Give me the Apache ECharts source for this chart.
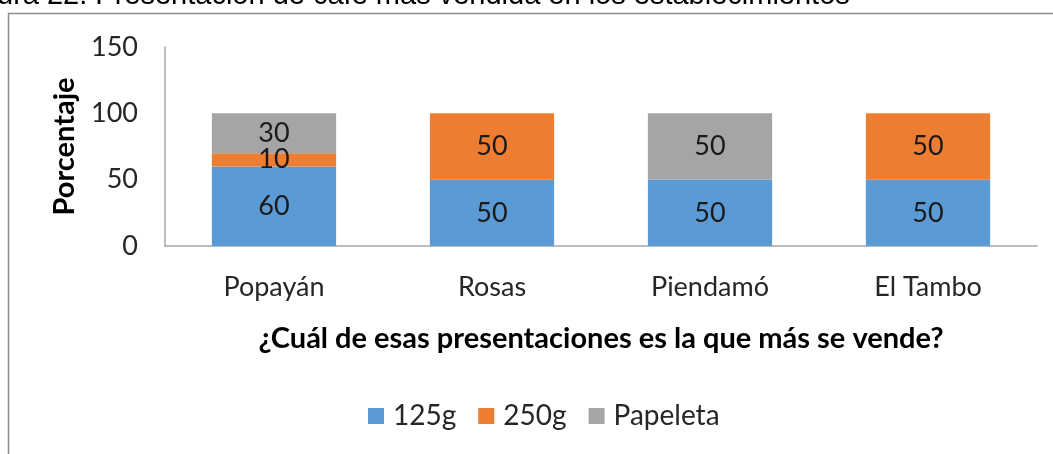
<!DOCTYPE html>
<html>
<head>
<meta charset="utf-8">
<script src="https://cdn.jsdelivr.net/npm/echarts@6/dist/echarts.min.js"></script>
<style>
  html, body { margin: 0; padding: 0; background: #fff; }
  #chart { width: 1053px; height: 454px; }
</style>
</head>
<body>
<div id="chart"></div>
<script>
var categories = ['Popayán', 'Rosas', 'Piendamó', 'El Tambo'];
var seriesNames = ['125g', '250g', 'Papeleta'];
var values125 = [60, 50, 50, 50];
var values250 = [10, 50, 0, 50];
var valuesPapeleta = [30, 0, 50, 0];
var yTicks = [0, 50, 100, 150];

var colors = ['#5B9BD5', '#ED7D31', '#A5A5A5'];
var font = 'Lato';

// hide the zero parts so they draw no label
function toData(arr) {
    return arr.map(function (v) { return v === 0 ? '-' : v; });
}

function makeSeries(name, arr, color) {
    return {
        name: name,
        type: 'bar',
        stack: 'total',
        barWidth: '57%',
        data: toData(arr),
        itemStyle: { color: color },
        label: {
            show: true,
            position: 'inside',
            color: '#1a1a1a',
            fontFamily: font,
            fontSize: 27
        }
    };
}

var myChart = echarts.init(document.getElementById('chart'));

var option = {
    animation: false,
    color: colors,
    graphic: [
        {
            type: 'text',
            left: -3,
            top: -19,
            style: {
                text: 'ura 22. Presentación de café más vendida en los establecimientos',
                font: '29px "Liberation Sans", Arial, sans-serif',
                fill: '#000'
            }
        },
        {
            type: 'rect',
            shape: { x: 8.5, y: 13.5, width: 1100, height: 500 },
            style: { fill: 'none', stroke: '#8c8c8c', lineWidth: 1.5 }
        }
    ],
    legend: {
        data: seriesNames,
        bottom: 19,
        left: 363,
        itemWidth: 16,
        itemHeight: 16,
        itemGap: 22,
        icon: 'rect',
        textStyle: { fontFamily: font, fontSize: 28, color: '#262626', padding: [0, 0, 0, 4] }
    },
    grid: {
        left: 165,
        right: 16,
        top: 47,
        bottom: 208,
        containLabel: false
    },
    xAxis: {
        type: 'category',
        data: categories,
        name: '¿Cuál de esas presentaciones es la que más se vende?',
        nameLocation: 'middle',
        nameGap: 78,
        nameTextStyle: { fontFamily: font, fontSize: 29, fontWeight: 'bold', color: '#000' },
        axisLine: { lineStyle: { color: '#a6a6a6', width: 1.5 } },
        axisTick: { show: false },
        axisLabel: { fontFamily: font, fontSize: 27, color: '#262626', margin: 28 }
    },
    yAxis: {
        type: 'value',
        min: yTicks[0],
        max: yTicks[yTicks.length - 1],
        interval: 50,
        name: 'Porcentaje',
        nameLocation: 'middle',
        nameGap: 86,
        nameRotate: 90,
        nameTextStyle: { fontFamily: font, fontSize: 29, fontWeight: 'bold', color: '#000' },
        axisLine: { show: true, lineStyle: { color: '#a6a6a6', width: 1.5 } },
        axisTick: { show: false },
        splitLine: { show: false },
        axisLabel: { fontFamily: font, fontSize: 27, color: '#262626', margin: 27 }
    },
    series: [
        makeSeries(seriesNames[0], values125, colors[0]),
        makeSeries(seriesNames[1], values250, colors[1]),
        makeSeries(seriesNames[2], valuesPapeleta, colors[2])
    ]
};

myChart.setOption(option);
</script>
</body>
</html>
